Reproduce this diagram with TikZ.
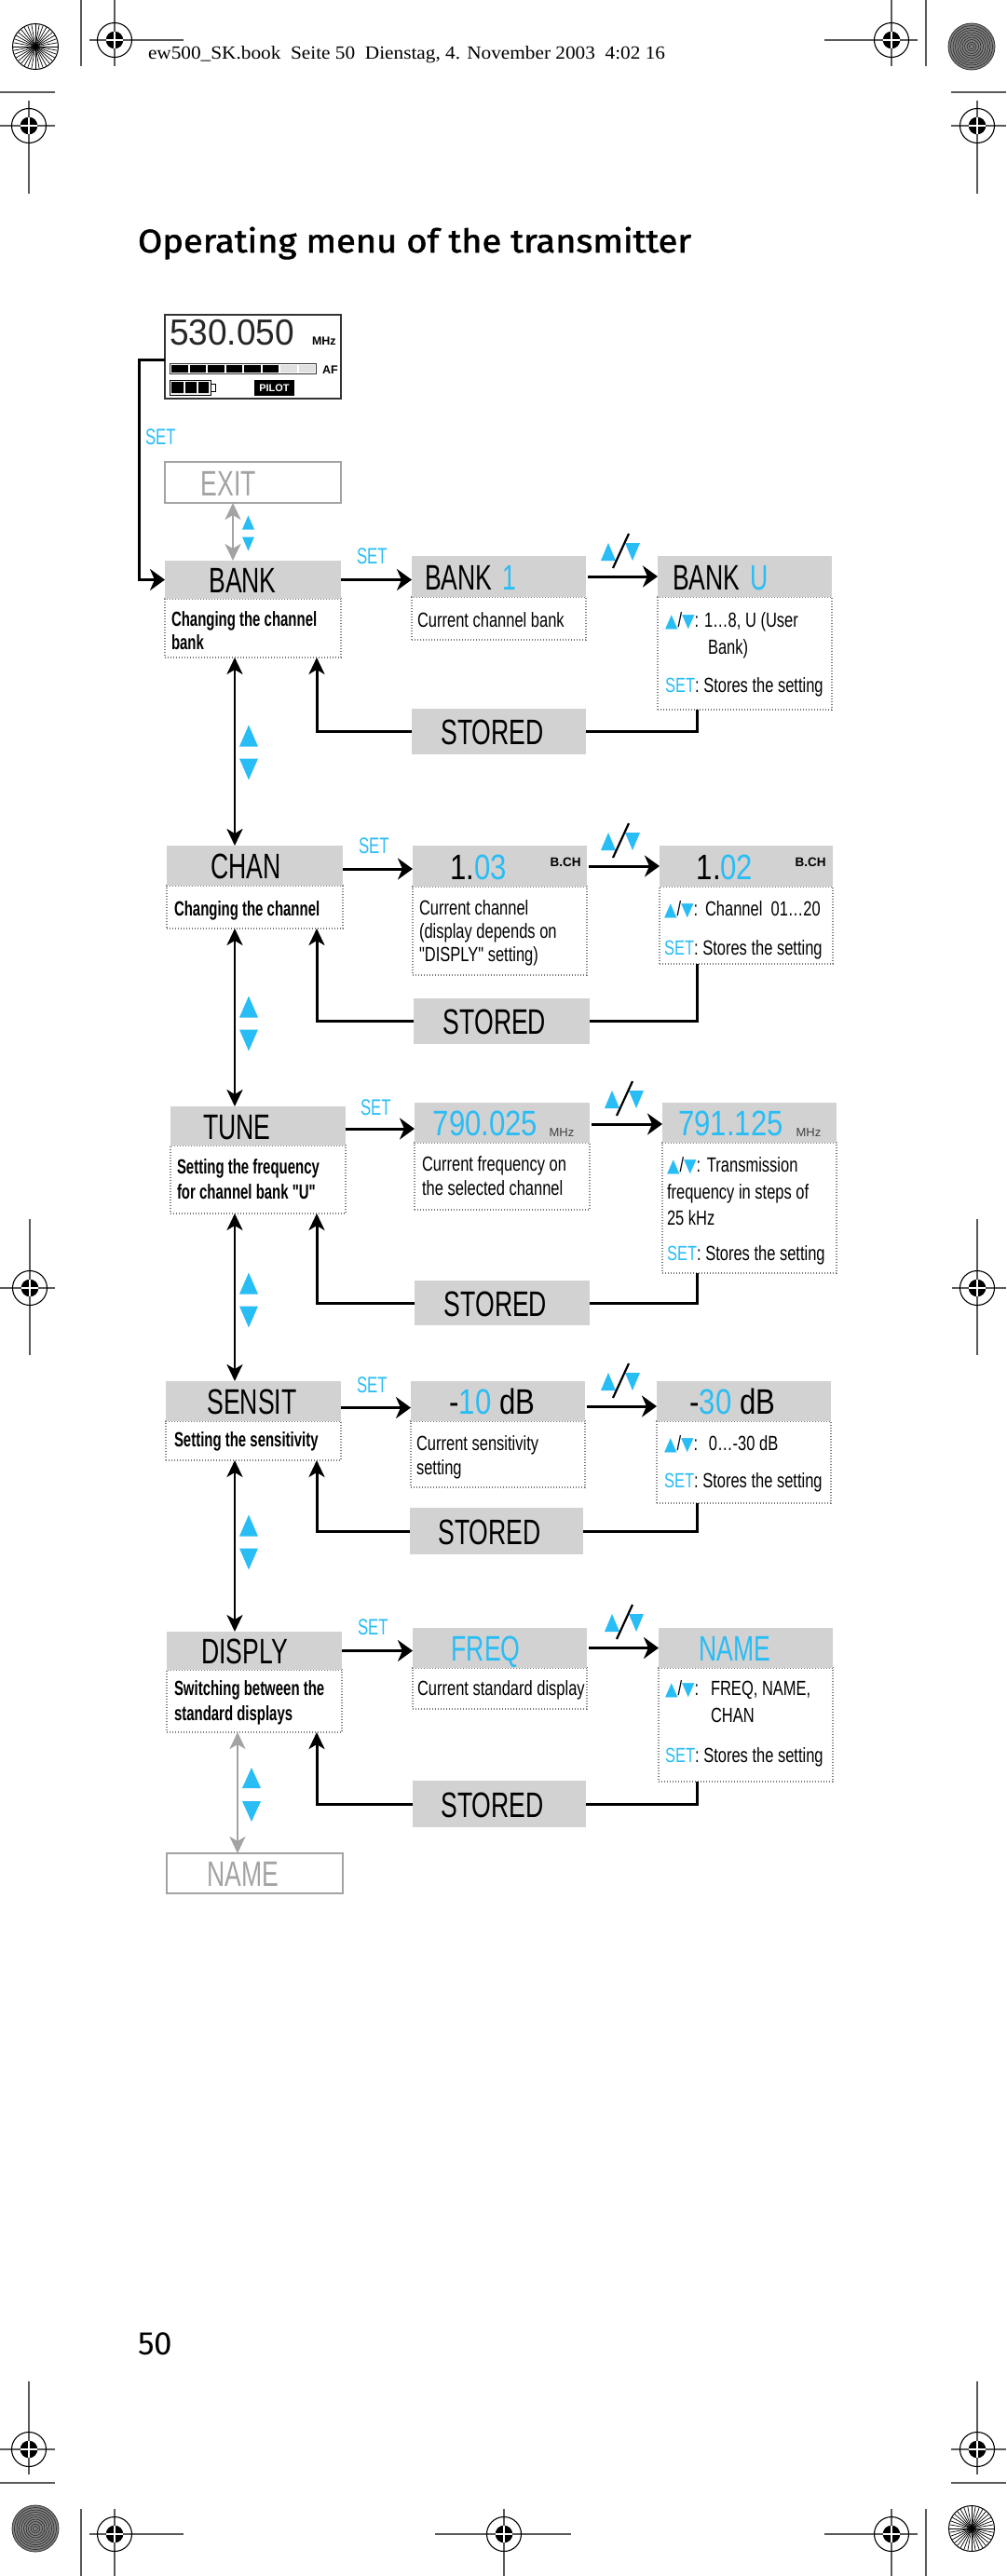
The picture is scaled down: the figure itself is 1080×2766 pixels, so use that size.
\documentclass[tikz,border=0pt]{standalone}
\usepackage{fontspec}
\usetikzlibrary{arrows.meta}
\setmainfont{Liberation Sans}
\newfontfamily\lblfont{Liberation Sans}[FakeStretch=0.7]
\newfontfamily\numfont{Liberation Sans}[FakeStretch=0.82]
\newfontfamily\descfont{Liberation Sans}[FakeStretch=0.75]
\newfontfamily\descbf{Liberation Sans}[FakeStretch=0.68]
\newfontfamily\symf{DejaVu Sans}[FakeStretch=0.88]
\newfontfamily\segf{Liberation Sans}[FakeStretch=0.95]
\newfontfamily\titlef{Fira Sans}[UprightFeatures={FakeBold=1.6}]
\newfontfamily\pagef{Fira Sans}
\newfontfamily\headf{Liberation Serif}
\definecolor{sbl}{RGB}{41,189,245}
\definecolor{hdrg}{RGB}{210,210,210}
\definecolor{grayl}{RGB}{163,163,163}
\definecolor{dotc}{RGB}{120,120,120}
\newcommand\fs[1]{\fontsize{#1}{#1}\selectfont}
\newcommand\lbl{\lblfont\fs{38}}
\newcommand\nmb{\numfont\fs{38}}
\newcommand\dsc{\descfont\fs{22}}
\newcommand\dbf{\descbf\bfseries\fs{22}}
\newcommand\setc{\textcolor{sbl}{SET}}
\newcommand\ud{{\symf\fs{20}\textcolor{sbl}{▲}}/{\symf\fs{20}\textcolor{sbl}{▼}}:}
\newcommand\udm[1]{\makebox[#1][l]{\ud}}
\newcommand\mkbox[6]{%
  \pgfmathsetmacro\bw{#5-#3}\pgfmathsetmacro\bh{#6-#4}%
  \node[#1, minimum width=\bw pt, minimum height=\bh pt, inner sep=0pt, outer sep=0pt] (#2) at ({(#3+#5)/2},{(#4+#6)/2}) {};}
\newcommand\regmark[2]{%
  \draw[line width=1.1pt] (#1,#2) circle[radius=18.5];
  \fill (#1,#2) circle[radius=9.3];
  \draw[white, line width=1.1pt] (#1-9.3,#2) -- (#1+9.3,#2) (#1,#2-9.3) -- (#1,#2+9.3);}
\newcommand\sunburst[2]{%
  \foreach \a in {0,10,...,350} \draw[line width=0.7pt] (#1,#2) -- ++(\a:24);
  \draw[line width=1pt] (#1,#2) circle[radius=24.5];}
\newcommand\darkdisc[2]{%
  \fill[black!50] (#1,#2) circle[radius=25];
  \foreach \r in {2.5,5,...,24} \draw[black!85, line width=0.6pt] (#1,#2) circle[radius=\r];
  \draw[black!80, line width=0.8pt] (#1,#2) circle[radius=25];}
\newcommand\triup[4]{\fill[sbl] (#1-#3/2,#2+#4/2) -- (#1+#3/2,#2+#4/2) -- (#1,#2-#4/2) -- cycle;}
\newcommand\tridn[4]{\fill[sbl] (#1-#3/2,#2-#4/2) -- (#1+#3/2,#2-#4/2) -- (#1,#2+#4/2) -- cycle;}
\newcommand\updn[5]{\triup{#1}{#2-#5}{#3}{#4}\tridn{#1}{#2+#5}{#3}{#4}}
\newcommand\udlab[2]{%
  \triup{#1+8}{#2-26.5}{16}{19}\tridn{#1+34}{#2-26.5}{16}{19}
  \draw[line width=2.2pt] (#1+13,#2-9) -- (#1+30,#2-46);}
\tikzset{
  hdr/.style={fill=hdrg, draw=none},
  dsc/.style={draw=dotc, dash pattern=on 1.4pt off 1.6pt, line width=1.3pt, fill=white},
  gbox/.style={draw=grayl, line width=2.6pt, fill=white},
  lcdbox/.style={draw=black!80, line width=2pt, fill=white},
  harr/.style={line width=3pt, -{Stealth[length=16pt,width=23pt,inset=5pt]}},
  varr/.style={line width=3pt, -{Stealth[length=18pt,width=17pt,inset=5pt]}},
  vdarr/.style={line width=2.8pt, {Stealth[length=18pt,width=17pt,inset=5pt]}-{Stealth[length=18pt,width=17pt,inset=5pt]}},
  gdarr/.style={line width=2.6pt, draw=grayl, {Stealth[length=18pt,width=17pt,inset=5pt]}-{Stealth[length=18pt,width=17pt,inset=5pt]}},
  cline/.style={line width=3pt},
  txt/.style={inner sep=0pt, outer sep=0pt, anchor=base west},
  ctxt/.style={inner sep=0pt, outer sep=0pt, anchor=base},
  regl/.style={line width=1.1pt, black!65},
}
\begin{document}
\begin{tikzpicture}[x=1pt,y=-1pt]
\useasboundingbox (0,0) rectangle (1080,2766);
\fill[white] (0,0) rectangle (1080,2766);
% ---------- printer's marks ----------
\draw[regl] (87,0)--(87,71) (123,0)--(123,71) (96,43)--(197,43)
  (957,0)--(957,71) (885,43)--(985,43) (994,0)--(994,71)
  (0,99)--(59,99) (1021,99)--(1080,99)
  (31,108)--(31,208) (0,135)--(59,135) (1049,108)--(1049,208) (1021,135)--(1080,135)
  (32,1309)--(32,1455) (0,1383)--(59,1383) (1049,1309)--(1049,1455) (1022,1383)--(1080,1383)
  (31,2557)--(31,2657) (0,2630)--(59,2630) (1049,2557)--(1049,2657) (1021,2630)--(1080,2630)
  (0,2666)--(59,2666) (1021,2666)--(1080,2666)
  (87,2694)--(87,2766) (123,2694)--(123,2766) (96,2721)--(197,2721)
  (541,2694)--(541,2766) (467,2721)--(613,2721)
  (957,2694)--(957,2766) (885,2721)--(985,2721) (994,2694)--(994,2766);
\regmark{123}{43}\regmark{957}{43}\regmark{31}{135}\regmark{1049}{135}
\regmark{32}{1383}\regmark{1049}{1383}\regmark{31}{2630}\regmark{1049}{2630}
\regmark{123}{2721}\regmark{541}{2721}\regmark{957}{2721}
\sunburst{38}{50}\sunburst{1043}{2715}
\darkdisc{1043}{50}\darkdisc{38}{2715}
\node[txt] (head) at (159,63) {\resizebox{555pt}{\height}{\headf\fs{20}ew500\_SK.book\ \ Seite 50\ \ Dienstag, 4. November 2003\ \ 4:02 16}};
\node[txt] (title) at (148,271) {\resizebox{594pt}{\height}{\titlef\fs{35}Operating menu of the transmitter}};
\node[txt] (pageno) at (148,2528) {\pagef\fs{35}50};
% ---------- LCD ----------
\mkbox{lcdbox}{lcd}{177}{338}{366}{428}
\node[txt] (lcdnum) at (182,370) {\segf\fs{39}\textcolor{black!85}{530.050}};
\node[txt] (lcdmhz) at (335,370) {\bfseries\fs{12.5}MHz};
\draw[line width=1pt, black!80] (182,390) rectangle (339,401);
\foreach \i in {0,...,5} \fill (184+\i*19.5,391.5) rectangle (184+\i*19.5+17.5,399.5);
\foreach \i in {6,7} \fill[black!12] (184+\i*19.5,391.5) rectangle (184+\i*19.5+17.5,399.5);
\node[txt] (lcdaf) at (346,401) {\bfseries\fs{12.5}AF};
\draw[line width=1pt] (182,408) rectangle (226,424);
\fill (184,410) rectangle (197,422) (199,410) rectangle (211,422) (213,410) rectangle (224,422);
\draw[line width=0.8pt] (226,412) rectangle (231,420);
\node[fill=black, text=white, inner sep=0pt, minimum width=43pt, minimum height=17pt, font=\bfseries\fs{11}] (pilot) at (294.5,416.5) {PILOT};
\node[txt] (setloop) at (156,477) {\lblfont\fs{24}\textcolor{sbl}{SET}};
% ---------- boxes ----------
\mkbox{gbox}{exit}{177}{496}{366}{540}
\node[ctxt] (exitt) at (245.5,532) {\lbl\textcolor{grayl}{EXIT}};
% row 1
\mkbox{dsc}{bankLd}{177}{643}{366}{706}
\mkbox{hdr}{bankL}{177}{602}{366}{643}
\mkbox{dsc}{bankMd}{442}{641}{629}{687}
\mkbox{hdr}{bankM}{442}{597}{629}{641}
\mkbox{dsc}{bankRd}{706}{641}{893}{762}
\mkbox{hdr}{bankR}{706}{597}{893}{641}
\mkbox{hdr}{bankS}{442}{761}{629}{810}
% row 2
\mkbox{dsc}{chanLd}{179}{951}{368}{997}
\mkbox{hdr}{chanL}{179}{908}{368}{951}
\mkbox{dsc}{chanMd}{443}{952}{630}{1047}
\mkbox{hdr}{chanM}{443}{908}{630}{952}
\mkbox{dsc}{chanRd}{708}{952}{894}{1035}
\mkbox{hdr}{chanR}{708}{908}{894}{952}
\mkbox{hdr}{chanS}{444}{1072}{633}{1121}
% row 3
\mkbox{dsc}{tuneLd}{183}{1230}{371}{1303}
\mkbox{hdr}{tuneL}{183}{1188}{371}{1230}
\mkbox{dsc}{tuneMd}{445}{1227}{633}{1299}
\mkbox{hdr}{tuneM}{445}{1184}{633}{1227}
\mkbox{dsc}{tuneRd}{711}{1227}{898}{1367}
\mkbox{hdr}{tuneR}{711}{1184}{898}{1227}
\mkbox{hdr}{tuneS}{445}{1375}{633}{1423}
% row 4
\mkbox{dsc}{sensLd}{178}{1526}{366}{1568}
\mkbox{hdr}{sensL}{178}{1483}{366}{1526}
\mkbox{dsc}{sensMd}{441}{1526}{628}{1597}
\mkbox{hdr}{sensM}{441}{1483}{628}{1526}
\mkbox{dsc}{sensRd}{705}{1526}{892}{1614}
\mkbox{hdr}{sensR}{705}{1483}{892}{1526}
\mkbox{hdr}{sensS}{440}{1619}{626}{1669}
% row 5
\mkbox{dsc}{dispLd}{179}{1793}{367}{1860}
\mkbox{hdr}{dispL}{179}{1752}{367}{1793}
\mkbox{dsc}{dispMd}{443}{1791}{630}{1835}
\mkbox{hdr}{dispM}{443}{1748}{630}{1791}
\mkbox{dsc}{dispRd}{707}{1791}{894}{1913}
\mkbox{hdr}{dispR}{707}{1748}{894}{1791}
\mkbox{hdr}{dispS}{443}{1912}{629}{1962}
\mkbox{gbox}{nameb}{179}{1990}{368}{2033}
\node[ctxt] (namebt) at (260.5,2025.5) {\lbl\textcolor{grayl}{NAME}};
% ---------- header texts ----------
\node[ctxt] (l1) at (260.5,636.5) {\lbl BANK};
\node[txt] (m1) at (456,633) {\lbl BANK\hspace{11pt}\textcolor{sbl}{1}};
\node[txt] (r1) at (722,633) {\lbl BANK\hspace{11pt}\textcolor{sbl}{U}};
\node[ctxt] (s1) at (528.5,799.5) {\lbl STORED};
\node[ctxt] (l2) at (264,943.5) {\lbl CHAN};
\node[ctxt] (m2) at (513.5,944) {\nmb 1.\textcolor{sbl}{03}};
\node[ctxt] (m2b) at (607,930) {\bfseries\fs{13.5}B.CH};
\node[ctxt] (r2) at (778,944) {\nmb 1.\textcolor{sbl}{02}};
\node[ctxt] (r2b) at (870,930) {\bfseries\fs{13.5}B.CH};
\node[ctxt] (s2) at (531,1110.5) {\lbl STORED};
\node[ctxt] (l3) at (254.5,1223) {\lbl TUNE};
\node[ctxt] (m3) at (521,1219.5) {\nmb\textcolor{sbl}{790.025}};
\node[ctxt] (m3b) at (603,1220) {\fs{13}\textcolor{black!75}{MHz}};
\node[ctxt] (r3) at (784.5,1219.5) {\nmb\textcolor{sbl}{791.125}};
\node[ctxt] (r3b) at (868,1220) {\fs{13}\textcolor{black!75}{MHz}};
\node[ctxt] (s3) at (532,1413) {\lbl STORED};
\node[ctxt] (l4) at (270.5,1518.5) {\lbl SENSIT};
\node[ctxt] (m4) at (528.5,1518.5) {\nmb -\textcolor{sbl}{10} dB};
\node[ctxt] (r4) at (786.5,1518.5) {\nmb -\textcolor{sbl}{30} dB};
\node[ctxt] (s4) at (525.5,1658) {\lbl STORED};
\node[ctxt] (l5) at (262.5,1786.5) {\lbl DISPLY};
\node[ctxt] (m5) at (521.5,1783.5) {\lbl\textcolor{sbl}{FREQ}};
\node[ctxt] (r5) at (788.5,1783.5) {\lbl\textcolor{sbl}{NAME}};
\node[ctxt] (s5) at (528.5,1951) {\lbl STORED};
% ---------- description texts ----------
\node[txt] (d1a) at (184,672) {\dbf Changing the channel};
\node[txt] (d1b) at (184,697) {\dbf bank};
\node[txt] (d1c) at (448,673) {\dsc Current channel bank};
\node[txt] (d1d) at (714,673) {\dsc\udm{42pt}1…8, U (User};
\node[txt] (d1e) at (760,702) {\dsc Bank)};
\node[txt] (d1f) at (714,743) {\dsc\setc: Stores the setting};
\node[txt] (d2a) at (187,983) {\dbf Changing the channel};
\node[txt] (d2b) at (450,982) {\dsc Current channel};
\node[txt] (d2c) at (450,1007) {\dsc (display depends on};
\node[txt] (d2d) at (450,1032) {\dsc "DISPLY" setting)};
\node[txt] (d2e) at (713,983) {\dsc\udm{44pt}Channel\ \ 01…20};
\node[txt] (d2f) at (713,1025) {\dsc\setc: Stores the setting};
\node[txt] (d3a) at (190,1260) {\dbf Setting the frequency};
\node[txt] (d3b) at (190,1287) {\dbf for channel bank "U"};
\node[txt] (d3c) at (453,1257) {\dsc Current frequency on};
\node[txt] (d3d) at (453,1283) {\dsc the selected channel};
\node[txt] (d3e) at (716,1258) {\dsc\udm{43pt}Transmission};
\node[txt] (d3f) at (716,1287) {\dsc frequency in steps of};
\node[txt] (d3g) at (716,1315) {\dsc 25 kHz};
\node[txt] (d3h) at (716,1353) {\dsc\setc: Stores the setting};
\node[txt] (d4a) at (187,1553) {\dbf Setting the sensitivity};
\node[txt] (d4b) at (447,1557) {\dsc Current sensitivity};
\node[txt] (d4c) at (447,1583) {\dsc setting};
\node[txt] (d4d) at (713,1557) {\dsc\udm{48pt}0…-30 dB};
\node[txt] (d4e) at (713,1597) {\dsc\setc: Stores the setting};
\node[txt] (d5a) at (187,1820) {\dbf Switching between the};
\node[txt] (d5b) at (187,1847) {\dbf standard displays};
\node[txt] (d5c) at (448,1820) {\dsc Current standard display};
\node[txt] (d5d) at (714,1820) {\dsc\udm{49pt}FREQ, NAME,};
\node[txt] (d5e) at (763,1849) {\dsc CHAN};
\node[txt] (d5f) at (714,1892) {\dsc\setc: Stores the setting};
% ---------- SET labels ----------
\node[txt] (set1) at (383,605) {\lblfont\fs{24}\textcolor{sbl}{SET}};
\node[txt] (set2) at (385,916) {\lblfont\fs{24}\textcolor{sbl}{SET}};
\node[txt] (set3) at (387,1197) {\lblfont\fs{24}\textcolor{sbl}{SET}};
\node[txt] (set4) at (383,1495) {\lblfont\fs{24}\textcolor{sbl}{SET}};
\node[txt] (set5) at (384,1755) {\lblfont\fs{24}\textcolor{sbl}{SET}};
% ---------- connectors ----------
\coordinate (lp) at (149,386);
\coordinate (retR) at (748,0);
\coordinate (retL) at (340,0);
\coordinate (vl) at (252,0);
\coordinate (gvA) at (250,0);
\coordinate (gvB) at (255,0);
\draw[harr] (lcd.west |- lp) -- (lp) |- (bankL.west);
\draw[gdarr] (exit.south -| gvA) -- (bankL.north -| gvA);
\updn{266.5}{572.5}{13}{15}{11.5}
% SET arrows
\draw[harr] (bankL.east) -- (bankL.east -| bankM.west);
\draw[harr] ([yshift=-3.5pt]chanL.east) -- ([yshift=-3.5pt]chanL.east -| chanM.west);
\draw[harr] ([yshift=-3pt]tuneL.east) -- ([yshift=-3pt]tuneL.east -| tuneM.west);
\draw[harr] ([yshift=-7pt]sensL.east) -- ([yshift=-7pt]sensL.east -| sensM.west);
\draw[harr] (dispL.east) -- (dispL.east -| dispM.west);
% middle arrows
\draw[harr] ([xshift=2pt]bankM.east) -- (bankR.west);
\draw[harr] ([xshift=2pt]chanM.east) -- (chanR.west);
\draw[harr] ([xshift=2pt,yshift=-1.5pt]tuneM.east) -- ([yshift=-1.5pt]tuneR.west);
\draw[harr] ([xshift=2pt,yshift=-5.5pt]sensM.east) -- ([yshift=-5.5pt]sensR.west);
\draw[harr] ([xshift=2pt]dispM.east) -- (dispR.west);
\udlab{645}{619}\udlab{645}{930}\udlab{649}{1207}\udlab{645}{1510}\udlab{649}{1769}
% return loops
\draw[cline] (bankRd.south -| retR) |- (bankS.east);
\draw[varr] (bankS.west) -| (bankLd.south -| retL);
\draw[cline] (chanRd.south -| retR) |- (chanS.east);
\draw[varr] (chanS.west) -| (chanLd.south -| retL);
\draw[cline] (tuneRd.south -| retR) |- (tuneS.east);
\draw[varr] (tuneS.west) -| (tuneLd.south -| retL);
\draw[cline] (sensRd.south -| retR) |- (sensS.east);
\draw[varr] (sensS.west) -| (sensLd.south -| retL);
\draw[cline] (dispRd.south -| retR) |- (dispS.east);
\draw[varr] (dispS.west) -| (dispLd.south -| retL);
% vertical links
\draw[vdarr] (bankLd.south -| vl) -- (chanL.north -| vl);
\draw[vdarr] (chanLd.south -| vl) -- (tuneL.north -| vl);
\draw[vdarr] (tuneLd.south -| vl) -- (sensL.north -| vl);
\draw[vdarr] (sensLd.south -| vl) -- (dispL.north -| vl);
\draw[gdarr] (dispLd.south -| gvB) -- (nameb.north -| gvB);
\updn{267}{808}{20}{23}{18}
\updn{267}{1099}{20}{23}{18}
\updn{267}{1396}{20}{23}{18}
\updn{267}{1656}{20}{23}{18}
\updn{270}{1927}{20}{22}{18}
\end{tikzpicture}
\end{document}
